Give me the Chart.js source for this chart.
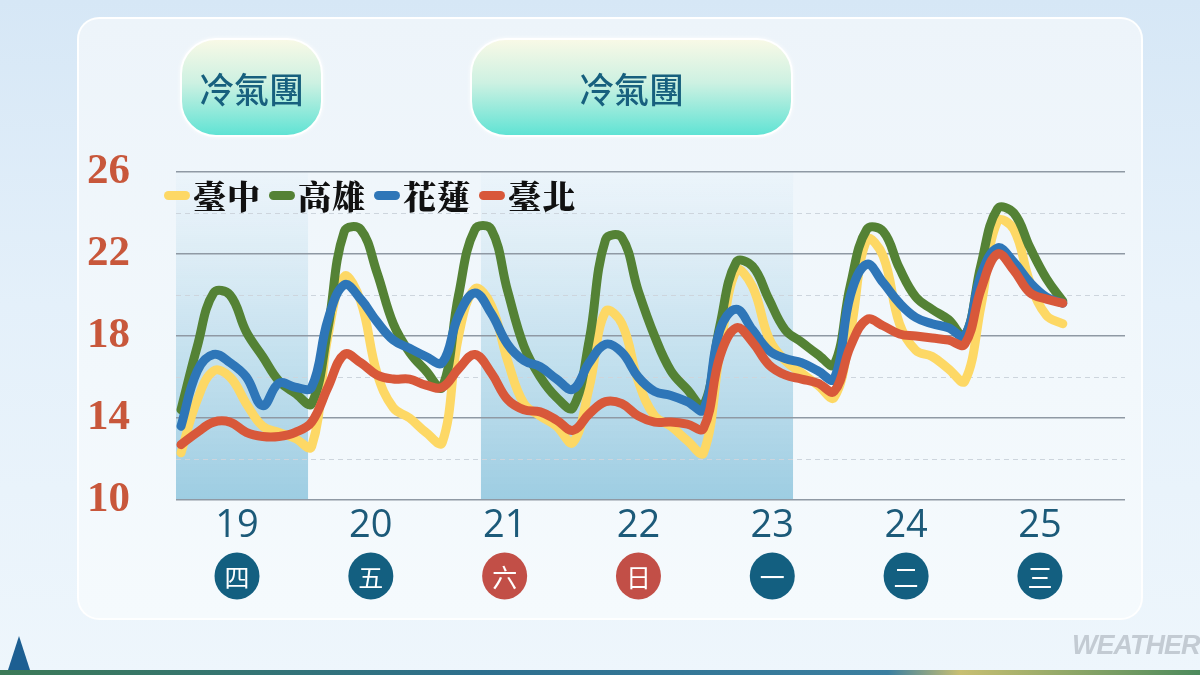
<!DOCTYPE html>
<html><head><meta charset="utf-8">
<script src="https://cdn.jsdelivr.net/npm/chart.js@4"></script>
<style>
html,body{margin:0;padding:0;}
body{width:1200px;height:675px;overflow:hidden;position:relative;
  background:linear-gradient(180deg,#d6e7f6 0%,#e4f0fa 45%,#eef6fc 100%);
  font-family:"Noto Sans CJK TC","Noto Sans",sans-serif;}
#panel{position:absolute;left:77px;top:17px;width:1062px;height:599px;border:2px solid rgba(255,255,255,0.95);
  border-radius:22px;background:linear-gradient(180deg,#edf4fa 0%,#f2f8fc 60%,#f5fafd 100%);}
#c{position:absolute;left:0;top:0;}
.cold{position:absolute;top:38px;height:99px;border-radius:36px;border:2px solid #fff;box-sizing:border-box;
  background:linear-gradient(180deg,#f8f9e6 0%,#cdf1e2 45%,#60e3d4 100%);
  display:flex;align-items:center;justify-content:center;color:#17607e;font-size:35px;font-weight:500;
  box-shadow:0 0 4px rgba(255,255,255,0.8);}
#legend{position:absolute;left:164px;top:174px;display:flex;align-items:center;}
.li{display:flex;align-items:center;margin-right:8px;}
.ll{width:26px;height:9px;border-radius:4.5px;margin-right:3px;}
.lt{font-size:33px;font-weight:900;color:#111;letter-spacing:1px;line-height:42px;
  font-family:"Noto Serif CJK TC","Noto Sans CJK TC",serif;}
#wm{position:absolute;left:1072px;top:630px;font:italic bold 27px "Liberation Sans",sans-serif;color:#c3cbd3;letter-spacing:-1px;}
#strip{position:absolute;left:0;top:670px;width:1200px;height:5px;
  background:linear-gradient(90deg,#3c7a57 0%,#2d6f8e 40%,#3b7fa0 74%,#c8bf72 80%,#4c8a5c 100%);}
#tri{position:absolute;left:8px;top:636px;width:0;height:0;border-left:11px solid transparent;border-right:11px solid transparent;border-bottom:34px solid #1d5f92;}
</style>
</head><body>
<div id="panel"></div>
<canvas id="c" width="1200" height="675"></canvas>
<div class="cold" style="left:180px;width:143px;">冷氣團</div>
<div class="cold" style="left:470px;width:323px;">冷氣團</div>
<div id="legend"></div>
<div id="wm">WEATHER</div>
<div id="strip"></div>
<div id="tri"></div>
<script>
// ---- data ----
const dayLabels = ['19','20','21','22','23','24','25'];
const weekdayLabels = ['四','五','六','日','一','二','三'];
const seriesNames = ['臺中','高雄','花蓮','臺北'];
const yTickValues = [10,14,18,22,26];
const taichung = [12.3,14.9,16.3,16.0,14.7,13.6,13.3,13.0,12.6,
  18.0,20.9,19.7,16.2,14.5,14.0,13.3,12.8,
  18.0,20.3,19.5,16.8,14.7,14.1,13.6,12.8,
  15.5,19.2,18.6,15.8,14.1,13.6,12.9,12.3,
  17.2,21.2,20.4,17.9,16.8,16.2,15.6,15.0,
  18.2,22.7,21.9,18.6,17.3,17.0,16.4,15.8,
  19.5,23.6,23.2,20.6,19.0,18.6];
const kaohsiung = [14.4,17.5,20.1,20.0,18.2,17.0,15.8,15.2,14.7,
  18.4,23.1,23.2,21.1,18.6,17.2,16.3,15.5,
  20.0,23.2,23.2,20.2,17.5,16.0,15.0,14.5,
  17.8,22.7,22.8,20.2,18.0,16.3,15.4,14.6,
  18.5,21.6,21.4,19.8,18.3,17.7,17.1,16.6,
  20.5,23.2,23.1,21.3,19.9,19.3,18.8,18.0,
  21.5,24.2,24.0,22.3,20.8,19.7];
const hualien = [13.6,16.3,17.1,16.7,16.0,14.6,15.7,15.5,15.5,
  18.8,20.5,19.8,18.7,17.8,17.4,17.0,16.7,
  19.0,20.1,19.1,17.6,16.8,16.5,15.9,15.4,
  16.7,17.6,17.2,16.0,15.3,15.1,14.8,14.4,
  18.3,19.3,18.3,17.3,16.9,16.7,16.3,15.9,
  20.0,21.5,20.6,19.6,18.9,18.6,18.4,18.0,
  21.0,22.3,21.6,20.6,19.9,19.6];
const taipei = [12.7,13.3,13.8,13.8,13.3,13.1,13.1,13.3,13.8,
  15.5,17.1,16.7,16.1,15.9,15.9,15.6,15.5,
  16.4,17.1,16.2,14.9,14.4,14.3,13.9,13.4,
  14.2,14.8,14.7,14.1,13.8,13.8,13.7,13.5,
  17.0,18.4,17.7,16.6,16.1,15.9,15.7,15.3,
  17.5,18.8,18.5,18.1,18.0,17.9,17.8,17.6,
  20.3,22.0,21.2,20.1,19.8,19.6];

// ---- styles / layout ----
const seriesData = [taichung,kaohsiung,hualien,taipei];
const seriesColors = ['#fdd865','#548235','#2e76b8','#d8583a'];
const holidayChars = ['六','日'];
const X_MIN = -0.306, X_MAX = 57.81;
const DAY0 = 3.43, DAY_STEP = 8.195;
const bands = [[-0.306,7.78],[18.37,37.48]];
const minorY = [12,16,20,24];

// HTML legend
const lg = document.getElementById('legend');
seriesNames.forEach((n,k)=>{
  const it=document.createElement('div');it.className='li';
  const l=document.createElement('div');l.className='ll';l.style.background=seriesColors[k];
  const t=document.createElement('div');t.className='lt';t.textContent=n;
  it.appendChild(l);it.appendChild(t);lg.appendChild(it);
});

const decor = {
  id:'decor',
  beforeDraw(chart){
    const {ctx, chartArea:a, scales:{x,y}} = chart;
    ctx.save();
    bands.forEach(([s,e])=>{
      const x0=x.getPixelForValue(s), x1=x.getPixelForValue(e);
      const g=ctx.createLinearGradient(0,a.top,0,a.bottom);
      g.addColorStop(0,'rgba(232,242,249,0.6)');
      g.addColorStop(0.5,'rgba(196,224,238,0.9)');
      g.addColorStop(1,'#9dcde2');
      ctx.fillStyle=g;
      ctx.fillRect(x0,a.top,x1-x0,a.bottom-a.top);
    });
    ctx.restore();
  },
  beforeDatasetsDraw(chart){
    const {ctx, chartArea:a, scales:{y}} = chart;
    ctx.save();
    ctx.strokeStyle='#cdd5dd';ctx.lineWidth=1;ctx.setLineDash([5,4]);
    minorY.forEach(v=>{const py=Math.round(y.getPixelForValue(v))+0.5;
      ctx.beginPath();ctx.moveTo(a.left,py);ctx.lineTo(a.right,py);ctx.stroke();});
    ctx.restore();
  },
  afterDraw(chart){
    const {ctx, scales:{x}} = chart;
    ctx.save();
    x.ticks.forEach((t,i)=>{
      const px=x.getPixelForValue(t.value), py=576;
      const ch=weekdayLabels[i];
      ctx.fillStyle = holidayChars.includes(ch) ? '#c24f47' : '#135f80';
      ctx.beginPath();ctx.ellipse(px,py,22.5,23.5,0,0,Math.PI*2);ctx.fill();
      ctx.fillStyle='#fff';ctx.font='25px "Noto Sans CJK TC"';
      ctx.textAlign='center';ctx.textBaseline='middle';
      ctx.fillText(ch,px,py+1);
    });
    ctx.restore();
  }
};

new Chart(document.getElementById('c'),{
  type:'line',
  data:{datasets: seriesNames.map((n,k)=>({
    label:n,
    data: seriesData[k].map((v,i)=>({x:i,y:v})),
    borderColor: seriesColors[k], backgroundColor: seriesColors[k],
    borderWidth:9, pointRadius:0, tension:0.4, fill:false,
    borderCapStyle:'round', borderJoinStyle:'round', order: 4-k
  }))},
  options:{
    responsive:false, devicePixelRatio:1, animation:false,
    layout:{padding:{top:172,right:75,left:0,bottom:0}},
    plugins:{legend:{display:false}, tooltip:{enabled:false}},
    scales:{
      x:{type:'linear', min:X_MIN, max:X_MAX,
        grid:{display:false}, border:{display:false},
        afterBuildTicks:s=>{ s.ticks = dayLabels.map((d,k)=>({value: DAY0 + k*DAY_STEP})); },
        ticks:{autoSkip:false, maxRotation:0, padding:-5, color:'#1c5a79',
          font:{family:'"Open Sans"', size:38}, callback:(v,i)=>dayLabels[i]},
        afterFit:s=>{ s.height = 175; }
      },
      y:{min:10, max:26,
        afterBuildTicks:s=>{ s.ticks = yTickValues.map(v=>({value:v})); },
        ticks:{color:'#c8573b', padding:46, font:{family:'"Liberation Serif"', size:43, weight:'bold'}},
        grid:{color:'#8f99a4', lineWidth:1.5, drawTicks:false},
        border:{display:false},
        afterFit:s=>{ s.width = 176; }
      }
    }
  },
  plugins:[decor]
});
</script>
</body></html>
